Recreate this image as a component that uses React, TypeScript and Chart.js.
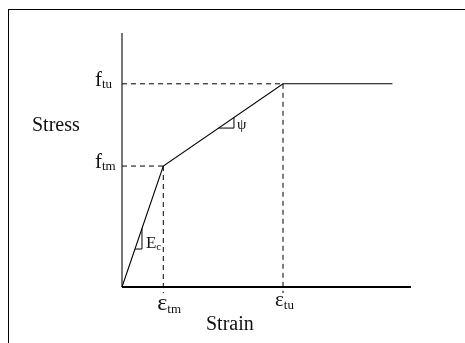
import React, { useEffect, useRef } from "react";
import { Chart, registerables } from "chart.js";

Chart.register(...registerables);

// Stress-strain curve (normalised units: strain / eps_tm, stress / f_tm)
const curveStrain = [0, 1.0, 3.9, 6.55];
const curveStress = [0, 1.0, 1.68, 1.68];

const epsTm = 1.0;
const epsTu = 3.9;
const fTm = 1.0;
const fTu = 1.68;

const xMax = 7.0;
const yMax = 2.1;

// slope indicator triangles
const ecTriX = [0.314, 0.484, 0.484];
const ecTriY = [0.314, 0.314, 0.484];
const psiTriX = [2.339, 2.712, 2.712];
const psiTriY = [1.314, 1.314, 1.4015];

const yTickLabels = [
  { value: fTu, main: "f", sub: "tu" },
  { value: fTm, main: "f", sub: "tm" },
];
const xTickLabels = [
  { value: epsTm, main: "ε", sub: "tm", dy: 23, dx: -6, size: 24 },
  { value: epsTu, main: "ε", sub: "tu", dy: 19, dx: -8, size: 21 },
];

const SERIF = "'Liberation Serif', 'DejaVu Serif', serif";

const zip = (xs: number[], ys: number[]) => xs.map((x, i) => ({ x, y: ys[i] }));

export default function App() {
  const ref = useRef<HTMLCanvasElement | null>(null);

  useEffect(() => {
    if (!ref.current) return;
    const overlay = {
      id: "overlay",
      beforeDatasetsDraw(chart: any) {
        const { ctx, scales } = chart;
        const xs = scales.x;
        const ys = scales.y;
        const x0 = xs.getPixelForValue(0);
        const y0 = ys.getPixelForValue(0);
        ctx.save();
        // frame
        ctx.strokeStyle = "#000";
        ctx.lineWidth = 1;
        ctx.strokeRect(8.5, 9.5, 1000, 1000);
        // y axis
        ctx.strokeStyle = "#555";
        ctx.lineWidth = 1.6;
        ctx.beginPath();
        ctx.moveTo(x0, ys.getPixelForValue(yMax));
        ctx.lineTo(x0, y0);
        ctx.stroke();
        // x axis
        ctx.strokeStyle = "#000";
        ctx.lineWidth = 1.8;
        ctx.beginPath();
        ctx.moveTo(x0, y0);
        ctx.lineTo(xs.getPixelForValue(xMax), y0);
        ctx.stroke();
        ctx.restore();
      },
      afterDatasetsDraw(chart: any) {
        const { ctx, scales } = chart;
        const xs = scales.x;
        const ys = scales.y;
        const x0 = xs.getPixelForValue(0);
        const y0 = ys.getPixelForValue(0);
        ctx.save();
        ctx.fillStyle = "#111";
        ctx.textBaseline = "alphabetic";
        ctx.textAlign = "left";
        const drawSub = (main: string, sub: string, x: number, y: number, mainSize: number, subSize: number, subDy: number) => {
          ctx.font = `${mainSize}px ${SERIF}`;
          ctx.fillText(main, x, y);
          const w = ctx.measureText(main).width;
          ctx.font = `${subSize}px ${SERIF}`;
          ctx.fillText(sub, x + w, y + subDy);
        };
        yTickLabels.forEach((t) => {
          const py = ys.getPixelForValue(t.value);
          drawSub(t.main, t.sub, x0 - 27, py + 2, 21, 13, 2);
        });
        xTickLabels.forEach((t) => {
          const px = xs.getPixelForValue(t.value);
          drawSub(t.main, t.sub, px + t.dx, y0 + t.dy, t.size, 13, 3);
        });
        // axis titles
        ctx.font = `20px ${SERIF}`;
        ctx.fillText("Stress", 32, 131);
        ctx.fillText("Strain", 206, 330);
        // slope labels
        const ex = xs.getPixelForValue(ecTriX[1]);
        const ey = ys.getPixelForValue(ecTriY[1]);
        drawSub("E", "c", ex + 4, ey - 1, 17, 11, 2);
        const sx = xs.getPixelForValue(psiTriX[1]);
        const sy = ys.getPixelForValue(psiTriY[1]);
        ctx.font = `15px ${SERIF}`;
        ctx.fillText("ψ", sx + 3, sy + 1);
        ctx.restore();
      },
    };

    const dashed = {
      borderColor: "#000",
      borderWidth: 1,
      borderDash: [5, 4],
      pointRadius: 0,
      showLine: true,
      clip: false as any,
    };
    const solid = {
      borderColor: "#000",
      borderWidth: 1.1,
      pointRadius: 0,
      showLine: true,
      clip: false as any,
    };

    const chart = new Chart(ref.current, {
      type: "scatter",
      data: {
        datasets: [
          { ...dashed, data: [{ x: 0, y: fTu }, { x: epsTu, y: fTu }] },
          { ...dashed, data: [{ x: epsTu, y: fTu }, { x: epsTu, y: -0.05 }] },
          { ...dashed, data: [{ x: 0, y: fTm }, { x: epsTm, y: fTm }] },
          { ...dashed, data: [{ x: epsTm, y: fTm }, { x: epsTm, y: -0.05 }] },
          { ...solid, data: zip(curveStrain, curveStress) },
          { ...solid, borderWidth: 1, data: zip(ecTriX, ecTriY) },
          { ...solid, borderWidth: 1, data: zip(psiTriX, psiTriY) },
        ],
      },
      options: {
        responsive: false,
        animation: false,
        layout: { padding: { left: 122, right: 54, top: 33, bottom: 56 } },
        plugins: { legend: { display: false }, tooltip: { enabled: false } },
        scales: {
          x: { type: "linear", min: 0, max: xMax, display: false },
          y: { type: "linear", min: 0, max: yMax, display: false },
        },
      },
      plugins: [overlay],
    });
    return () => chart.destroy();
  }, []);

  return (
    <div style={{ position: "absolute", left: 0, top: 0, width: 465, height: 343, background: "#fff" }}>
      <canvas ref={ref} width={465} height={343} style={{ width: 465, height: 343 }} />
    </div>
  );
}
